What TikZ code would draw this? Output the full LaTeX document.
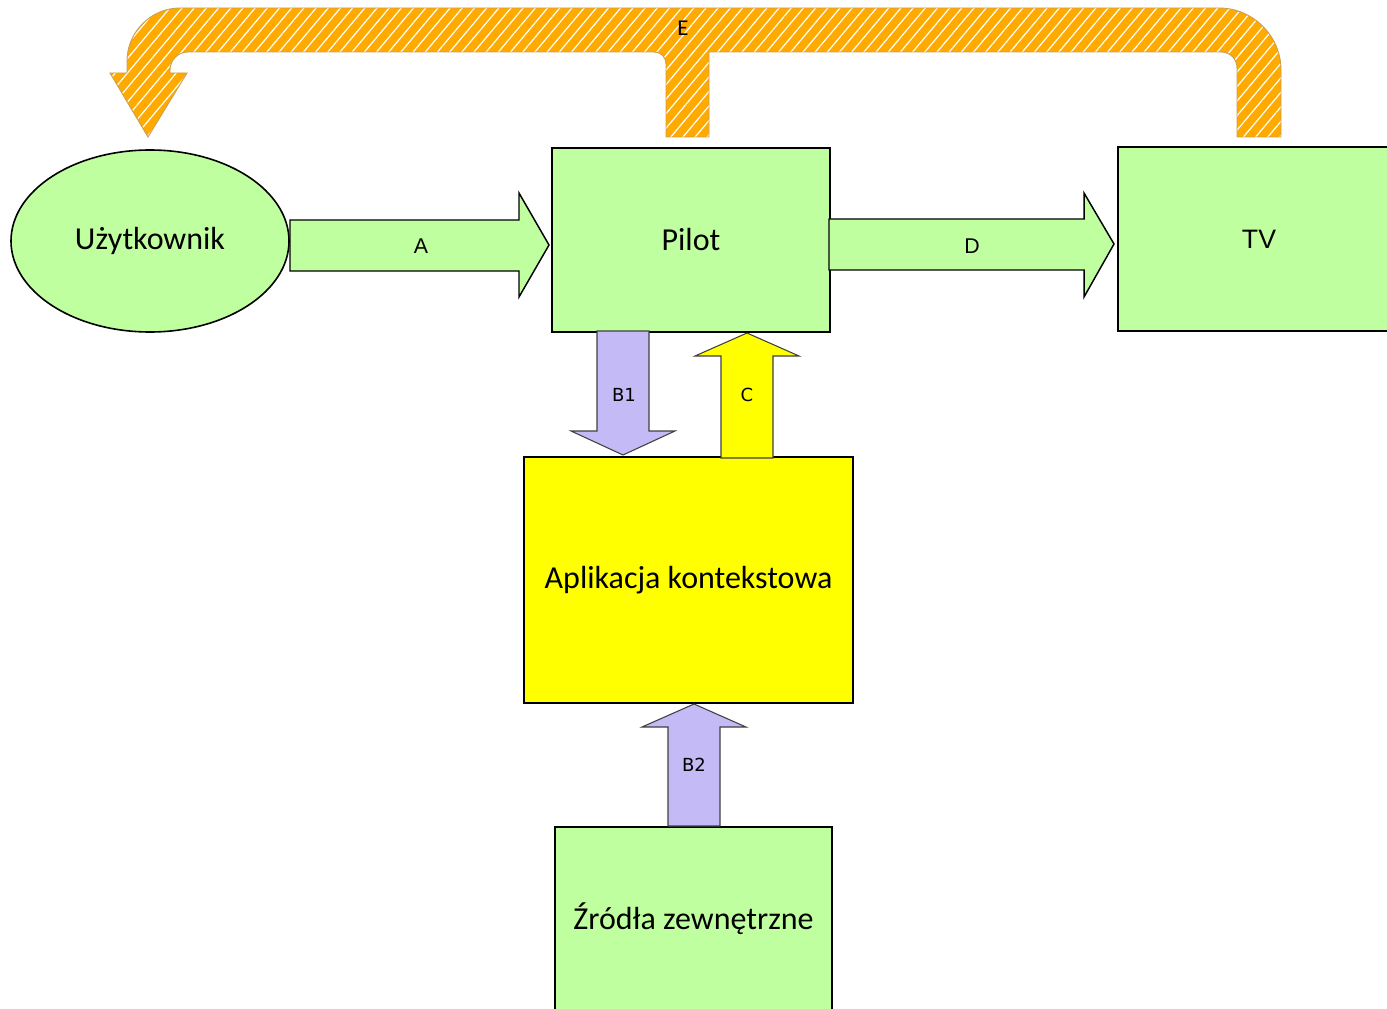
\documentclass[tikz,border=0pt]{standalone}
\usepackage{fontspec}
\setmainfont{Carlito}
\newfontfamily\arialf{Liberation Sans}
\newfontfamily\dejavuf{DejaVu Sans}
\usetikzlibrary{shapes.geometric,patterns.meta,calc}
\definecolor{boxgreen}{RGB}{192,255,160}
\definecolor{lav}{RGB}{196,186,245}
\definecolor{yel}{RGB}{255,255,0}
\definecolor{orng}{RGB}{255,170,0}
\definecolor{orngedge}{RGB}{205,160,80}
\tikzset{
  box/.style={draw=black, line width=1.5pt, fill=boxgreen, inner sep=0pt, font=\fontsize{24}{28}\selectfont},
  fatarrow/.style={draw=black, line width=1.1pt, fill=boxgreen},
  thinarrow/.style={draw=black!75, line width=0.8pt},
  biglbl/.style={font=\arialf\fontsize{16}{19}\selectfont},
  smalllbl/.style={font=\dejavuf\fontsize{13.5}{16}\selectfont},
}
\begin{document}
\begin{tikzpicture}[x=0.75pt,y=-0.75pt]
\useasboundingbox (0,0) rectangle (1387,1009);

% nodes
\node[box, ellipse, minimum width=208.5pt, minimum height=136.5pt, line width=1.2pt] (user) at (150,241) {\raisebox{-2.2pt}{Użytkownik}};
\node[box, minimum width=208.5pt, minimum height=138pt] (pilot) at (691,240) {\raisebox{-0.8pt}{Pilot}};
\node[box, minimum width=211.5pt, minimum height=138pt, font=\arialf\fontsize{20}{24}\selectfont] (tv) at (1259,239) {TV};
\node[box, fill=yel, minimum width=246.75pt, minimum height=184.5pt] (app) at (688.5,580) {\raisebox{-2pt}{Aplikacja kontekstowa}};
\node[box, minimum width=207.75pt, minimum height=138pt] (src) at (693.5,919) {\raisebox{-0.8pt}{Źródła zewnętrzne}};

% A
\draw[fatarrow] (pilot.west) ++(-2,5) -- ++(-30,52) -- ++(0,-26) -- ++(-229,0) -- ++(0,-51) -- ++(229,0) -- ++(0,-27) -- cycle;
\node[biglbl] (lA) at (421,246) {A};
% D
\draw[fatarrow] (tv.west) ++(-3,5) -- ++(-30,53) -- ++(0,-27) -- ++(-255,0) -- ++(0,-51) -- ++(255,0) -- ++(0,-26) -- cycle;
\node[biglbl] (lD) at (972,246) {D};

% B1 (down)
\draw[thinarrow, fill=lav] (app.north) ++(-65.5,-1) -- ++(52,-24) -- ++(-26,0) -- ++(0,-100) -- ++(-52,0) -- ++(0,100) -- ++(-26,0) -- cycle;
\node[smalllbl] (lB1) at (624,395) {B1};
% C (up)
\draw[thinarrow, fill=yel] (pilot.south) ++(56,0) -- ++(52,23) -- ++(-26,0) -- ++(0,102) -- ++(-52,0) -- ++(0,-102) -- ++(-26,0) -- cycle;
\node[smalllbl] (lC) at (747,395) {C};
% B2 (up)
\draw[thinarrow, fill=lav] (app.south) ++(5.5,0) -- ++(52,23) -- ++(-26,0) -- ++(0,99) -- ++(-52,0) -- ++(0,-99) -- ++(-26,0) -- cycle;
\node[smalllbl] (lB2) at (694,765) {B2};

% E (feedback arrow)
\def\Epath{(148,137) -- (187,73) -- (170,73) -- (170,70)
  .. controls (170,60) and (178,52) .. (188,52) -- (654,52)
  .. controls (661,52) and (666,57) .. (666,64) -- (666,137) -- (709,137) -- (709,52)
  -- (1221,52) .. controls (1230,52) and (1237,59) .. (1237,68) -- (1237,137) -- (1281,137) -- (1281,70)
  .. controls (1281,36) and (1253,8) .. (1219,8) -- (180,8)
  .. controls (151,8) and (127,32) .. (127,61) -- (127,73) -- (110,73) -- cycle}
\fill[orng] \Epath;
\path[pattern={Lines[angle=50,distance=7pt,line width=0.9pt]}, pattern color=white] \Epath;
\draw[orngedge, line width=0.7pt] \Epath;
\node[font=\fontsize{17}{20}\selectfont] (lE) at (683,28) {E};
\end{tikzpicture}
\end{document}
